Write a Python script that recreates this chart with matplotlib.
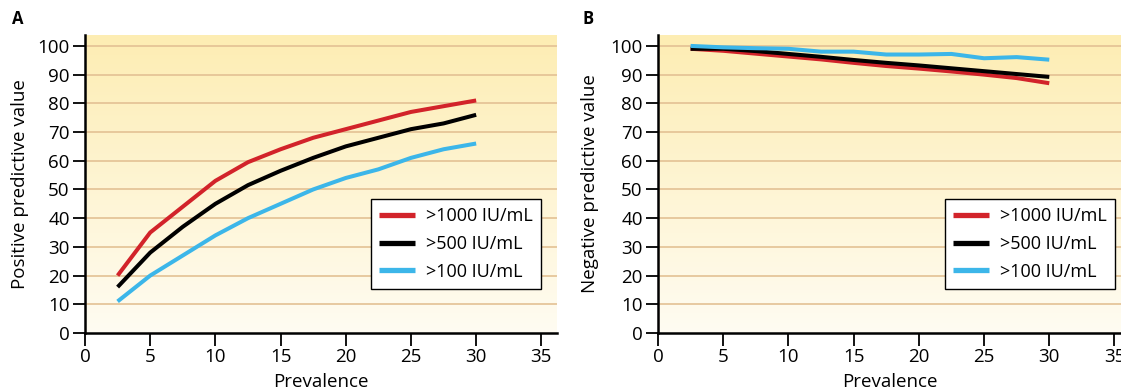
import numpy as np
import matplotlib
matplotlib.use("Agg")
import matplotlib.pyplot as plt
from matplotlib.colors import LinearSegmentedColormap

plt.rcParams['font.family'] = ['Open Sans', 'DejaVu Sans']

# prevalence (%)
prevalence = [2.5, 5, 7.5, 10, 12.5, 15, 17.5, 20, 22.5, 25, 27.5, 30]

# panel A - positive predictive value
ppv_1000 = [20, 35, 44, 53, 59.5, 64, 68, 71, 74, 77, 79, 81]
ppv_500 = [16, 28, 37, 45, 51.5, 56.5, 61, 65, 68, 71, 73, 76]
ppv_100 = [11, 20, 27, 34, 40, 45, 50, 54, 57, 61, 64, 66]

# panel B - negative predictive value
npv_1000 = [99, 98.3, 97.3, 96.3, 95.3, 94.1, 93, 92.1, 91.1, 90, 88.8, 87]
npv_500 = [99, 99, 98.2, 97.2, 96.2, 95.1, 94.1, 93.2, 92.2, 91.2, 90.2, 89.2]
npv_100 = [100, 99.5, 99.2, 99, 98, 98, 97, 97, 97.2, 95.7, 96.1, 95.2]

labels = ['>1000 IU/mL', '>500 IU/mL', '>100 IU/mL']
colors = ['#d2232a', '#000000', '#3cb6e9']

bg = LinearSegmentedColormap.from_list('bg', ['#fffcf2', '#fdedb3'])
grad = np.linspace(0, 1, 256).reshape(-1, 1)


def panel(ax, series, ylabel, xmax, leg_x, ylabpad):
    ax.imshow(grad, cmap=bg, origin='lower', aspect='auto',
              extent=[0, 1, 0, 1], transform=ax.transAxes, zorder=0)
    for y in range(10, 101, 10):
        ax.axhline(y, color='#e3c194', lw=1.2, zorder=1)
    for vals, lab, c in zip(series, labels, colors):
        ax.plot(prevalence, vals, color=c, lw=2.9, label=lab, zorder=3,
                solid_capstyle='butt')
    ax.set_xlim(0, xmax)
    ax.set_ylim(0, 103.8)
    ax.set_xticks(range(0, 36, 5))
    ax.set_yticks(range(0, 101, 10))
    for s in ['top', 'right']:
        ax.spines[s].set_visible(False)
    for s in ['left', 'bottom']:
        ax.spines[s].set_linewidth(1.8)
        ax.spines[s].set_zorder(4)
    ax.tick_params(direction='out', length=9, width=1.3, labelsize=13.5,
                   pad=2)
    ax.set_xlabel('Prevalence', fontsize=13.5, labelpad=5)
    ax.set_ylabel(ylabel, fontsize=13.5, labelpad=ylabpad)
    leg = ax.legend(loc='lower right', bbox_to_anchor=(leg_x, 0.148),
                    fontsize=13, frameon=True, fancybox=False,
                    edgecolor='black', framealpha=1, handlelength=2.0,
                    handletextpad=0.6, borderpad=0.45, labelspacing=0.55,
                    borderaxespad=0)
    leg.get_frame().set_linewidth(1.0)
    for h in leg.get_lines():
        h.set_linewidth(3.8)
    leg.set_zorder(5)


fig = plt.figure(figsize=(11.21, 3.9), dpi=100)
axA = fig.add_axes([85 / 1121, 1 - 333 / 390, (557 - 85) / 1121, (333 - 35) / 390])
axB = fig.add_axes([658 / 1121, 1 - 333 / 390, (1121 - 658) / 1121, (333 - 35) / 390])

panel(axA, [ppv_1000, ppv_500, ppv_100], 'Positive predictive value', 36.2,
      0.966, 6)
panel(axB, [npv_1000, npv_500, npv_100], 'Negative predictive value', 35.5,
      0.987, 8)

fig.text(12 / 1121, 1 - 19 / 390, 'A', fontsize=12, fontweight='bold',
         va='center')
fig.text(583 / 1121, 1 - 19 / 390, 'B', fontsize=12, fontweight='bold',
         va='center')

fig.savefig('out.png', dpi=100)
